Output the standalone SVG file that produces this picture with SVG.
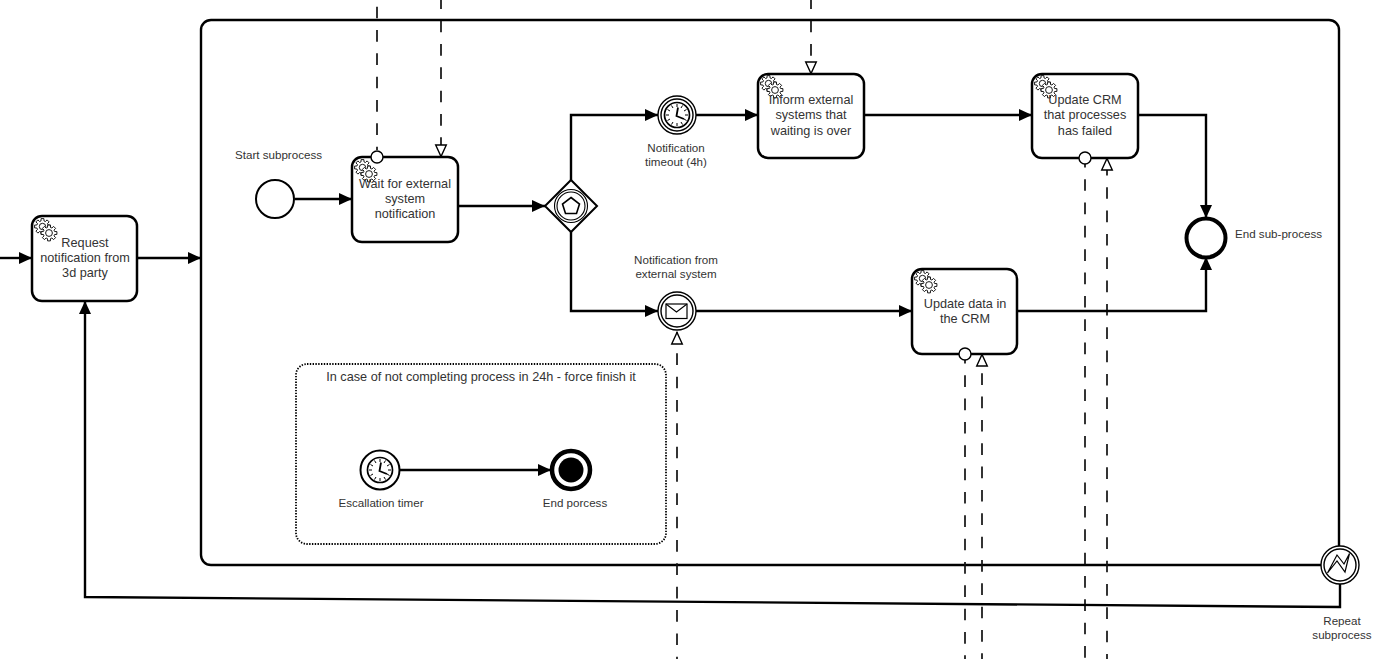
<svg xmlns="http://www.w3.org/2000/svg" width="1386" height="659" viewBox="0 0 1386 659">
<style>
text{font-family:"Liberation Sans",Arial,sans-serif;font-size:11.6px;fill:#333;text-anchor:middle}
text.t{font-size:12.7px}
.task{fill:#fff;stroke:#000;stroke-width:2.5}
.flow{fill:none;stroke:#000;stroke-width:2.4}
.msg{fill:none;stroke:#111;stroke-width:1.7;stroke-dasharray:11.67 11.67}
.ev{fill:#fff;stroke:#000;stroke-width:1.4}
.port{fill:#fff;stroke:#000;stroke-width:1.4}
.thin{fill:none;stroke:#000;stroke-width:1.1}
.g{fill:#fff;stroke:#000;stroke-width:.9}
</style>
<defs>
<marker id="arrow" markerUnits="userSpaceOnUse" markerWidth="15" markerHeight="15" refX="13" refY="7.5" orient="auto"><path d="M0 1.5L13 7.5L0 13.5Z" fill="#000"/></marker>
<marker id="open" markerUnits="userSpaceOnUse" markerWidth="15" markerHeight="15" refX="13" refY="7" orient="auto"><path d="M1 1.7L12.6 7L1 12.3Z" fill="#fff" stroke="#000" stroke-width="1.4"/></marker>
<path id="cog" d="M5.6-1.5L7.9-1.4V1.4L5.6 1.5L5 2.9L6.6 4.6L4.6 6.6L2.9 5L1.5 5.6L1.4 7.9H-1.4L-1.5 5.6L-2.9 5L-4.6 6.6L-6.6 4.6L-5 2.9L-5.6 1.5L-7.9 1.4V-1.4L-5.6-1.5L-5-2.9L-6.6-4.6L-4.6-6.6L-2.9-5L-1.5-5.6L-1.4-7.9H1.4L1.5-5.6L2.9-5L4.6-6.6L6.6-4.6L5-2.9Z"/>
<g id="gears">
<use href="#cog" class="g" x="-3.5" y="-3.5"/><circle class="g" cx="-3.5" cy="-3.5" r="3.2"/>
<use href="#cog" class="g" x="3" y="3"/><circle class="g" cx="3" cy="3" r="3.4"/>
</g>
<g id="clock">
<circle r="12.5" fill="#fff" stroke="#000" stroke-width="1.7"/>
<path d="M0-11V-8M5.5-9.5L4-7M9.5-5.5L7-4M11 0H8M9.5 5.5L7 4M5.5 9.5L4 7M0 11V8M-5.5 9.5L-4 7M-9.5 5.5L-7 4M-11 0H-8M-9.5-5.5L-7-4M-5.5-9.5L-4-7" stroke="#000" stroke-width="1"/>
<path d="M1-7.5L-0.5 1L7 4" fill="none" stroke="#000" stroke-width="1.8"/>
</g>
</defs>

<g id="subprocess"><rect x="201" y="20" width="1138" height="545" rx="10" fill="#fff" stroke="#000" stroke-width="2.4"/></g>
<g id="escalation-group"><rect x="296" y="364" width="370" height="180" rx="11" fill="none" stroke="#000" stroke-width="1.8" stroke-dasharray="1.4 1.4"/>
<text class="t" x="481" y="381">In case of not completing process in 24h - force finish it</text></g>

<g id="connectors">
<path class="msg" d="M377 0V150" stroke-dashoffset="16.67"/>
<path class="msg" d="M441 0V157" stroke-dashoffset="2.67" marker-end="url(#open)"/>
<path class="msg" d="M811 0V74" stroke-dashoffset="2.67" marker-end="url(#open)"/>
<path class="msg" d="M677 659V332" stroke-dashoffset="9.4" marker-end="url(#open)"/>
<path class="msg" d="M965 659V360" stroke-dashoffset="8"/>
<path class="msg" d="M982 659V354" stroke-dashoffset="6" marker-end="url(#open)"/>
<path class="msg" d="M1085 659V164" stroke-dashoffset="22"/>
<path class="msg" d="M1107 659V158" stroke-dashoffset="6.67" marker-end="url(#open)"/>
<path class="flow" d="M0 258H32" marker-end="url(#arrow)"/>
<path class="flow" d="M138 258H201" marker-end="url(#arrow)"/>
<path class="flow" d="M295 199H352" marker-end="url(#arrow)"/>
<path class="flow" d="M459 206H545" marker-end="url(#arrow)"/>
<path class="flow" d="M571 180V115H658" marker-end="url(#arrow)"/>
<path class="flow" d="M571 232V311H658" marker-end="url(#arrow)"/>
<path class="flow" d="M696 115H758" marker-end="url(#arrow)"/>
<path class="flow" d="M864 115H1032" marker-end="url(#arrow)"/>
<path class="flow" d="M1139 115H1206V218" marker-end="url(#arrow)"/>
<path class="flow" d="M696 311H912" marker-end="url(#arrow)"/>
<path class="flow" d="M1018 311H1206V257" marker-end="url(#arrow)"/>
<path class="flow" d="M399 470H551" marker-end="url(#arrow)"/>
<path class="flow" d="M1340 584V607L85 597V301" marker-end="url(#arrow)"/>
</g>

<g id="request-task"><rect class="task" x="32" y="216" width="105" height="85" rx="10"/><use href="#gears" x="46" y="230"/>
<text class="t" x="85" y="247">Request</text><text class="t" x="85" y="262">notification from</text><text class="t" x="85" y="277">3d party</text></g>

<g id="start-event"><circle cx="275" cy="199" r="19" fill="#fff" stroke="#000" stroke-width="2"/><text x="278.500" y="159">Start subprocess</text></g>

<g id="wait-task"><rect class="task" x="352" y="157" width="106" height="85" rx="10"/><use href="#gears" x="366" y="171"/>
<text class="t" x="405" y="188">Wait for external</text><text class="t" x="405" y="203">system</text><text class="t" x="405" y="218">notification</text>
<circle class="port" cx="377" cy="157" r="6"/></g>

<g id="gateway"><path d="M571 180L597 206L571 232L545 206Z" fill="#fff" stroke="#000" stroke-width="2"/>
<circle class="thin" cx="571" cy="206" r="16.500"/><circle class="thin" cx="571" cy="206" r="14"/>
<path d="M571 197.500L579.500 204L576.500 213.500H565.500L562.500 204Z" fill="none" stroke="#000" stroke-width="1.600"/></g>

<g id="timer-event"><circle class="ev" cx="677" cy="115" r="19"/><circle class="ev" cx="677" cy="115" r="16"/><use href="#clock" x="677" y="115"/>
<text x="676" y="152">Notification</text><text x="676" y="166">timeout (4h)</text></g>

<g id="inform-task"><rect class="task" x="758" y="74" width="106" height="84" rx="10"/><use href="#gears" x="772" y="87"/>
<text class="t" x="811" y="104">Inform external</text><text class="t" x="811" y="119">systems that</text><text class="t" x="811" y="135">waiting is over</text></g>

<g id="crm-fail-task"><rect class="task" x="1032" y="74" width="106" height="84" rx="10"/><use href="#gears" x="1046" y="87"/>
<text class="t" x="1085" y="104">Update CRM</text><text class="t" x="1085" y="119">that processes</text><text class="t" x="1085" y="135">has failed</text>
<circle class="port" cx="1085" cy="158" r="6"/></g>

<g id="end-subprocess"><circle cx="1206" cy="238" r="19.500" fill="#fff" stroke="#000" stroke-width="4"/><text x="1278.500" y="238">End sub-process</text></g>

<g id="message-event"><circle class="ev" cx="677" cy="311" r="19"/><circle class="ev" cx="677" cy="311" r="16"/>
<rect x="666" y="304" width="21" height="14.500" fill="#fff" stroke="#000" stroke-width="1.200"/><path class="thin" d="M666 304L676.500 312L687 304"/>
<text x="676" y="264">Notification from</text><text x="676" y="278">external system</text></g>

<g id="crm-data-task"><rect class="task" x="912" y="269" width="105" height="85" rx="10"/><use href="#gears" x="926" y="282"/>
<text class="t" x="965" y="308">Update data in</text><text class="t" x="965" y="323">the CRM</text>
<circle class="port" cx="965" cy="354" r="6"/></g>

<g id="escalation-timer"><circle cx="380" cy="470" r="19.500" fill="#fff" stroke="#000" stroke-width="2"/><use href="#clock" x="380" y="470"/><text x="381" y="507">Escallation timer</text></g>

<g id="end-process"><circle cx="571" cy="470" r="19" fill="#fff" stroke="#000" stroke-width="4.500"/><circle cx="571" cy="470" r="12.500" fill="#000"/><text x="575" y="507">End porcess</text></g>

<g id="error-boundary"><circle class="ev" cx="1340" cy="565" r="19"/><circle class="ev" cx="1340" cy="565" r="16"/>
<path d="M1327.500 573L1337 555L1344 564L1349.500 553.500L1345 572L1337 561Z" fill="#fff" stroke="#000" stroke-width="1.200"/>
<text x="1342" y="625">Repeat</text><text x="1342" y="639">subprocess</text></g>
</svg>
